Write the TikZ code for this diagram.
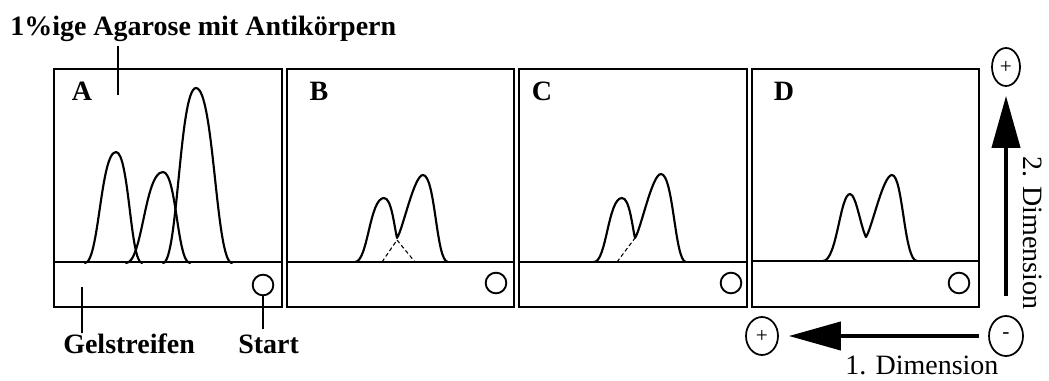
\documentclass[tikz,border=0pt]{standalone}
\usepackage{fontspec}
\setmainfont{Liberation Serif}
\usetikzlibrary{arrows.meta,shapes.geometric}
\begin{document}
\begin{tikzpicture}[x=0.75pt,y=-0.75pt,
  panel/.style={draw,line width=1.7pt},
  peak/.style={line width=1.6pt,line join=round,line cap=round},
  hid/.style={line width=0.8pt,dash pattern=on 3pt off 2pt},
  lead/.style={line width=1.7pt},
  startc/.style={circle,draw,line width=1.4pt,minimum size=15.5pt,inner sep=0pt},
  pole/.style={ellipse,draw,line width=1.3pt,inner sep=0pt,font=\fontsize{16}{18}\selectfont},
  lbl/.style={font=\bfseries\fontsize{21}{25}\selectfont,inner sep=0pt},
  dimtxt/.style={font=\fontsize{21}{25}\selectfont,inner sep=0pt},
  bigarrow/.style={line width=3pt,-{Triangle[length=39pt,width=21pt]}}]
\useasboundingbox (0,0) rectangle (1049,381);

% panels
\draw[panel] (54,69) rectangle (282,307);  \draw[panel] (54,262) -- (282,262);
\draw[panel] (287,69) rectangle (514,307); \draw[panel] (287,262) -- (514,262);
\draw[panel] (519,69) rectangle (747,307); \draw[panel] (519,262) -- (747,262);
\draw[panel] (752,69) rectangle (979,307); \draw[panel] (752,261) -- (979,261);

% start circles
\node[startc] (sA) at (263,285) {};
\node[startc] (sB) at (496,283) {};
\node[startc] (sC) at (731,283) {};
\node[startc] (sD) at (959,283) {};

% panel letters
\node[lbl,anchor=base] (lA) at (82,101) {A};
\node[lbl,anchor=base] (lB) at (319,101) {B};
\node[lbl,anchor=base] (lC) at (542,101) {C};
\node[lbl,anchor=base] (lD) at (784,101) {D};

% peaks A
\draw[peak] (85,263) .. controls (99,263) and (100.5,152) .. (116,152) .. controls (129,152) and (130.3,263) .. (142,263);
\draw[peak] (126,263) .. controls (142.7,263) and (144.5,172) .. (163,172) .. controls (176.5,172) and (177.2,263) .. (190,263);
\draw[peak] (163,263) .. controls (177.9,263) and (179.5,88) .. (196,88) .. controls (214,88) and (215.8,263) .. (232,263);

% peaks B
\draw[peak] (355,262) .. controls (368,262) and (369.5,198) .. (384,198) .. controls (391.5,198) and (394,225) .. (397,238) .. controls (403,229) and (414,175) .. (423,175) .. controls (435.5,175) and (436,262) .. (448,262);
\draw[hid] (382,262) -- (397,240) -- (415,262);

% peaks C
\draw[peak] (594,262) .. controls (606.6,262) and (608,198) .. (622,198) .. controls (629.5,198) and (632,225) .. (635,238) .. controls (641,229) and (652,174) .. (661,174) .. controls (673.5,174) and (674.8,262) .. (686,262);
\draw[hid] (617,262) -- (635,238);

% peaks D
\draw[peak] (823,261) .. controls (837,261) and (840,194) .. (850,194) .. controls (856,194) and (861,228) .. (866,237) .. controls (872,228) and (883,175) .. (892,175) .. controls (903,175) and (904,261) .. (917,261);

% labels and leaders
\node[lbl,anchor=base west] (title) at (10,36) {1\%ige Agarose mit Antikörpern};
\coordinate (agar) at (118,95);
\draw[lead] (agar |- title.south) ++(0,4) -- (agar);
\node[lbl,anchor=base west] (gel) at (63,353) {Gelstreifen};
\coordinate (gelpt) at (82,287);
\draw[lead] (gelpt) -- (gelpt |- gel.north) -- ++(0,-4);
\node[lbl,anchor=base west] (start) at (238,353) {Start};
\draw[lead] (sA.south) -- ([yshift=4]sA.south |- start.north);

% poles and arrows
\node[pole,minimum width=21pt,minimum height=28.5pt] (plusT) at (1006,67) {+};
\node[pole,minimum width=24pt,minimum height=28.5pt] (plusL) at (762,336) {+};
\node[pole,minimum width=25.5pt,minimum height=30pt] (minus) at (1006,336) {-};
\draw[bigarrow,shorten <=14pt,shorten >=6.75pt] (minus) -- (plusT);
\draw[bigarrow,shorten <=6.75pt,shorten >=7.5pt] (minus) -- (plusL);
\node[dimtxt,anchor=base west] (dim1) at (845,374) {1. Dimension};
\node[dimtxt,rotate=-90] (dim2) at (1033,233) {2. Dimension};
\end{tikzpicture}
\end{document}
